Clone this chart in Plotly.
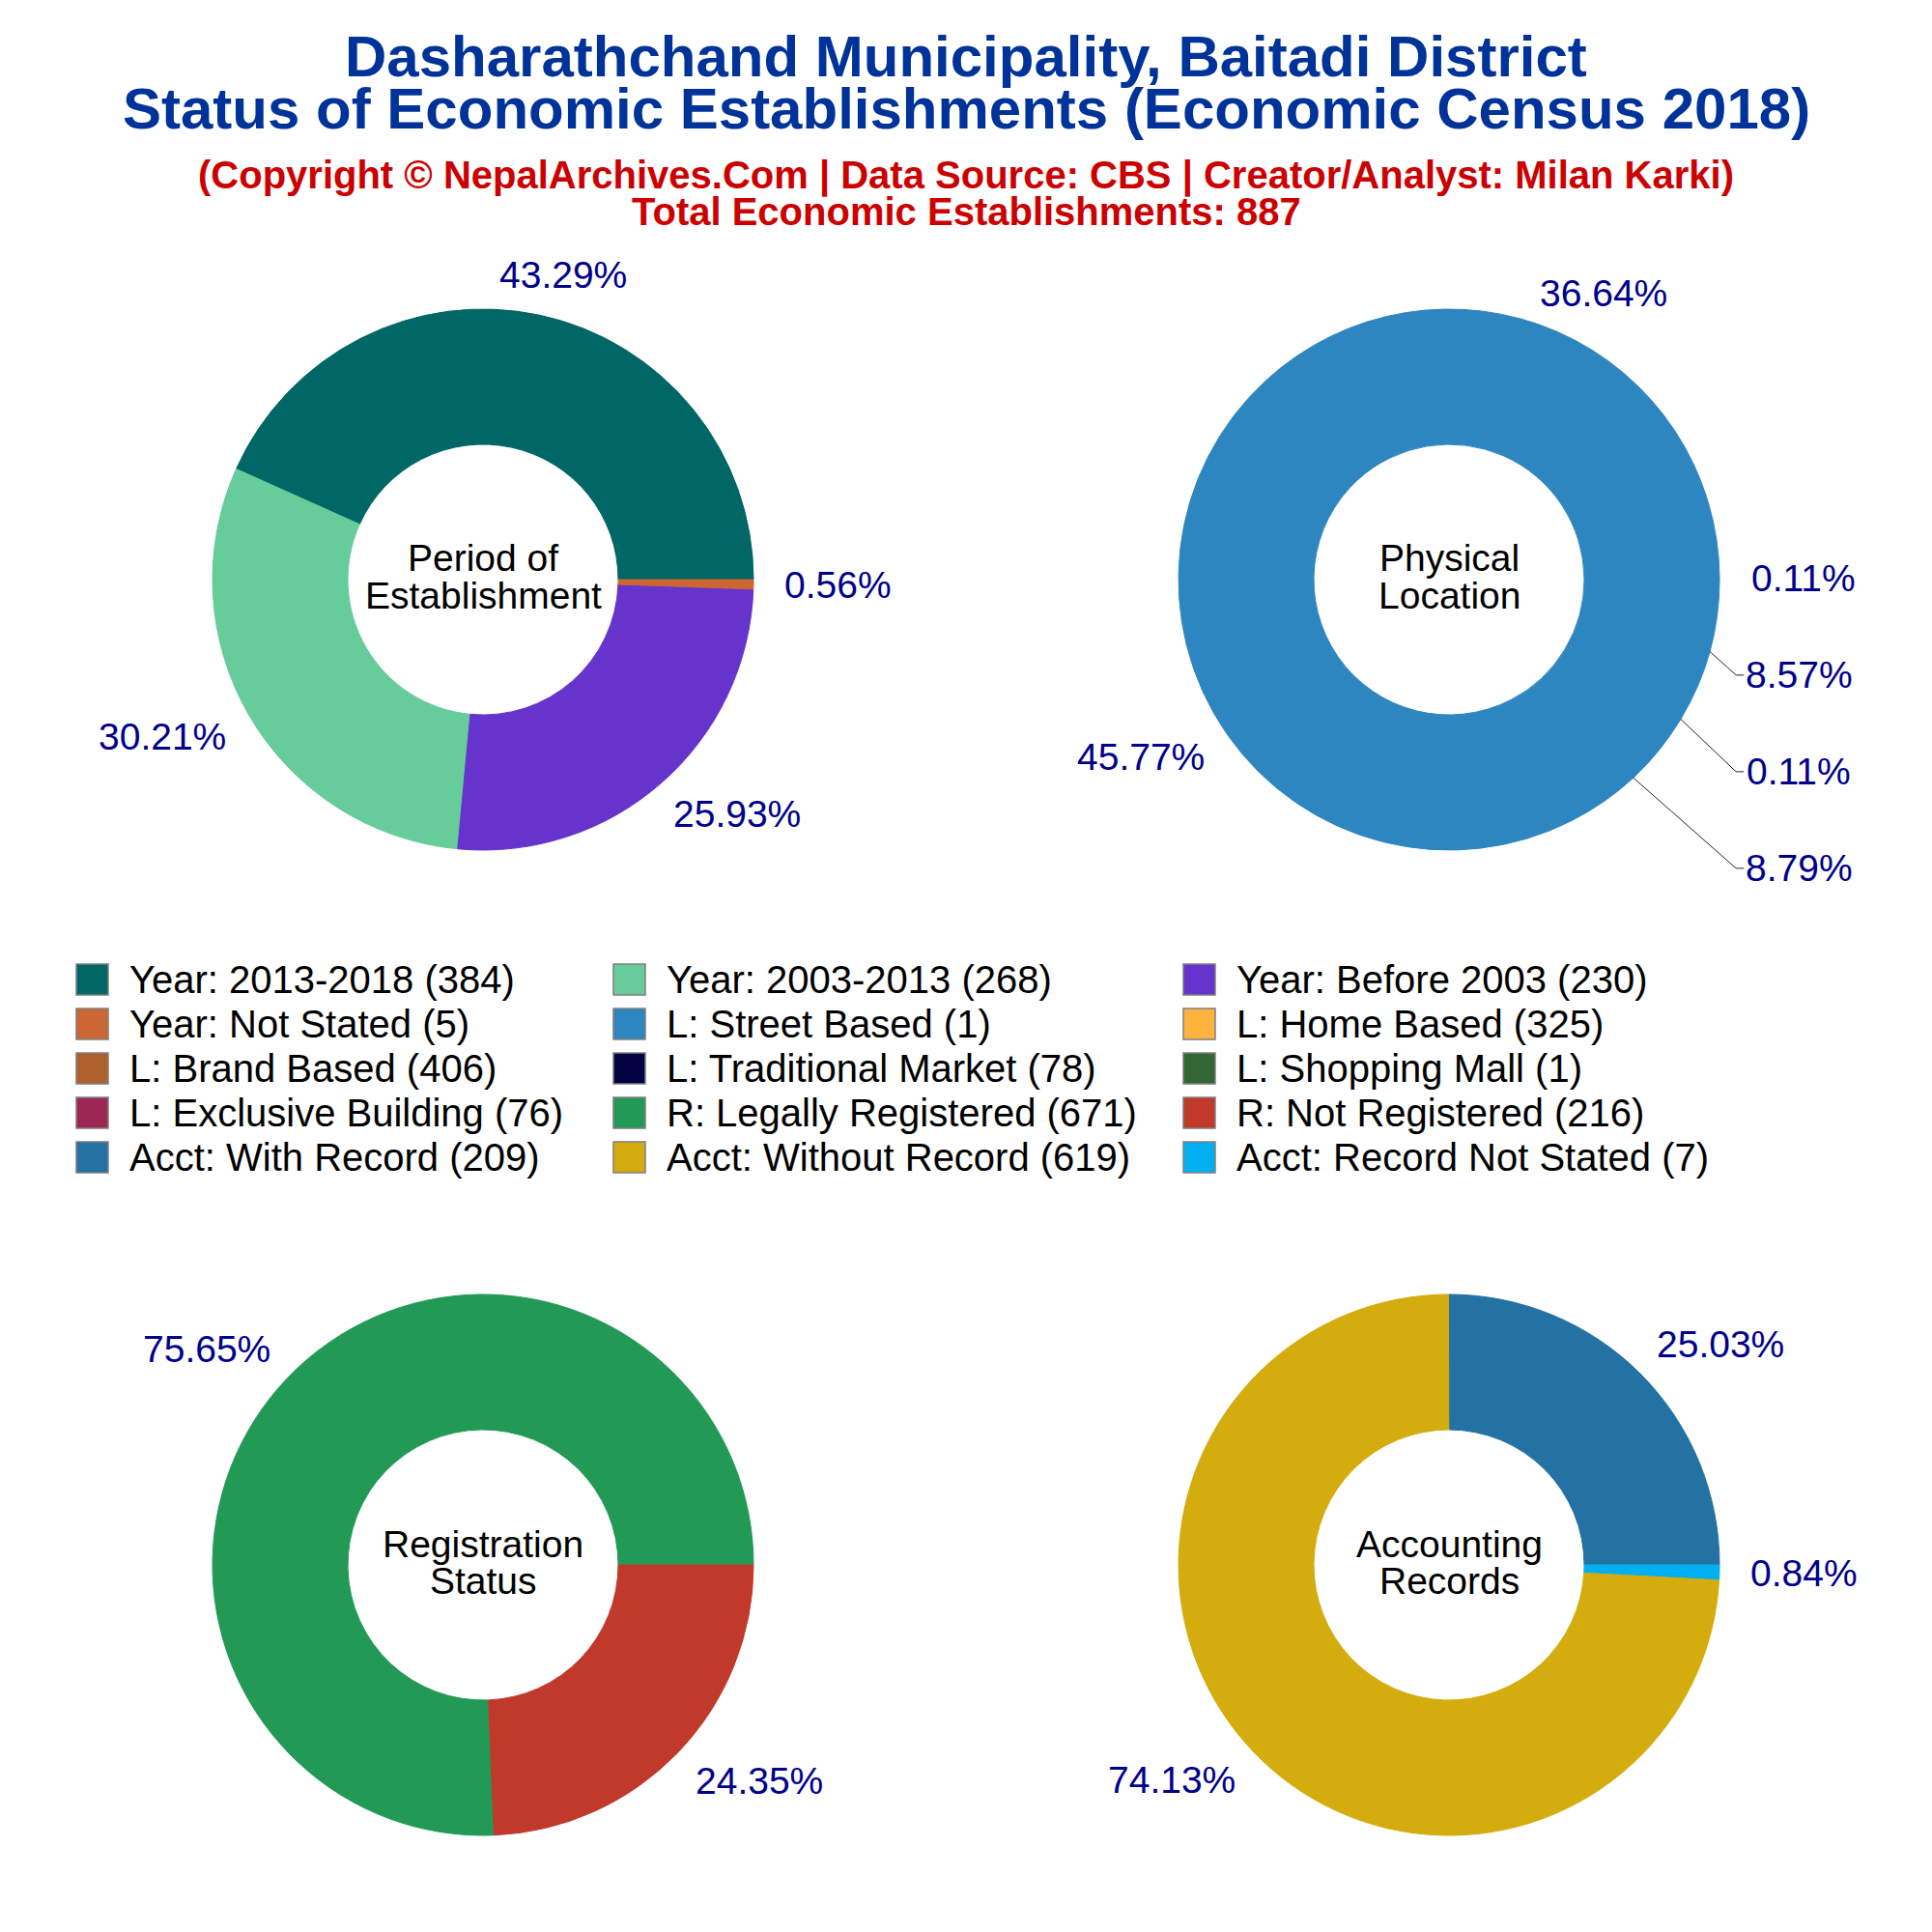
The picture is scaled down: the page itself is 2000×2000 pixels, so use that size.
import math
import plotly.graph_objects as go

# ---------------- data ----------------
period_labels = ["Year: 2013-2018", "Year: 2003-2013", "Year: Before 2003", "Year: Not Stated"]
period_values = [384, 268, 230, 5]
period_colors = ["#006666", "#66CC99", "#6633CC", "#CC6633"]

location_labels = ["L: Street Based", "L: Home Based", "L: Brand Based",
                   "L: Traditional Market", "L: Shopping Mall", "L: Exclusive Building"]
location_values = [1, 325, 406, 78, 1, 76]
location_colors = ["#2E86C1", "#FFB33F", "#B0602C", "#020244", "#336633", "#9C2755"]

registration_labels = ["R: Legally Registered", "R: Not Registered"]
registration_values = [671, 216]
registration_colors = ["#229955", "#C0392B"]

accounting_labels = ["Acct: With Record", "Acct: Without Record", "Acct: Record Not Stated"]
accounting_values = [209, 619, 7]
accounting_colors = ["#2471A3", "#D4AC0D", "#00B0F0"]

total_establishments = 887

title_lines = ["Dasharathchand Municipality, Baitadi District",
               "Status of Economic Establishments (Economic Census 2018)"]
subtitle_lines = ["(Copyright © NepalArchives.Com | Data Source: CBS | Creator/Analyst: Milan Karki)",
                  f"Total Economic Establishments: {total_establishments}"]

# ---------------- layout helpers ----------------
W = H = 2000
FONT = "Arial, Liberation Sans, sans-serif"
PCT_SIZE = 39
PCT_COLOR = "#00008B"


def px(x):
    return x / W


def py(y):
    return 1 - y / H


# approximate Arial advance widths (em) for label texts
CHAR_W = {".": 0.278, "%": 0.889}


def text_width(s, size):
    return sum(CHAR_W.get(ch, 0.556) for ch in s) * size


R = 280          # pie radius (px)
RL = 1.154 * R   # label radius
GAP = 100        # min vertical spacing between labels on one side
COL = 1.097 * R  # left edge of label column for displaced labels

pies = [
    dict(labels=period_labels, values=period_values, colors=period_colors,
         center=(500, 600), name=["Period of", "Establishment"]),
    dict(labels=location_labels, values=location_values,
         colors=[location_colors[0]] * len(location_values),
         center=(1500, 600), name=["Physical", "Location"]),
    dict(labels=registration_labels, values=registration_values, colors=registration_colors,
         center=(500, 1620), name=["Registration", "Status"]),
    dict(labels=accounting_labels, values=accounting_values, colors=accounting_colors,
         center=(1500, 1620), name=["Accounting", "Records"]),
]

fig = go.Figure()
annotations = []
shapes = []

for p in pies:
    cx, cy = p["center"]
    vals = p["values"]
    tot = sum(vals)
    rot = 90 - 360 * vals[0] / tot
    fig.add_trace(go.Pie(
        labels=p["labels"], values=vals,
        marker=dict(colors=p["colors"], line=dict(color=p["colors"], width=1)),
        hole=0.5, sort=False, direction="counterclockwise", rotation=rot,
        textinfo="none",
        domain=dict(x=[px(cx - R), px(cx + R)], y=[py(cy + R), py(cy - R)]),
        automargin=False, showlegend=False, hoverinfo="label+value+percent",
    ))

    # ---- percentage labels placed around the ring (angles from the data) ----
    labs = []
    start = 0.0
    for v in vals:
        span = 360.0 * v / tot
        th = math.radians(start + span / 2)
        start += span
        txt = f"{100 * v / tot:.2f}%"
        w = text_width(txt, PCT_SIZE)
        c, s = math.cos(th), math.sin(th)
        sign = 1 if c >= 0 else -1
        x = cx + c * RL + sign * (w / 2) * min(1.15 * abs(c), 0.8)
        y = cy - s * RL
        labs.append(dict(txt=txt, w=w, x=x, y=y, y0=y, side=sign,
                         rim=(cx + c * R, cy - s * R)))
    for side in (1, -1):
        group = sorted([l for l in labs if l["side"] == side], key=lambda l: l["y"])
        for a, b in zip(group, group[1:]):
            if b["y"] < a["y"] + GAP:
                b["y"] = a["y"] + GAP
    for l in labs:
        moved = abs(l["y"] - l["y0"]) > 10
        if moved:
            left = cx + l["side"] * COL
            l["x"] = left + l["side"] * l["w"] / 2
            rx, ry = l["rim"]
            ex = left - l["side"] * 10
            shapes.append(dict(type="path", xref="paper", yref="paper",
                               path=f"M {px(rx)} {py(ry)} L {px(ex)} {py(l['y'])} L {px(left - l['side'] * 2)} {py(l['y'])}",
                               line=dict(color="#222222", width=1)))
        annotations.append(dict(x=px(l["x"]), y=py(l["y"]), xref="paper", yref="paper",
                                text=l["txt"], showarrow=False, xanchor="center", yanchor="middle",
                                font=dict(family=FONT, size=PCT_SIZE, color=PCT_COLOR)))

    for k, line in enumerate(p["name"]):
        annotations.append(dict(
            x=px(cx), y=py(cy - 22 + 38 * k), xref="paper", yref="paper",
            text=line, showarrow=False, xanchor="center", yanchor="middle",
            font=dict(family=FONT, size=39, color="black")))

# titles
for txt, yc in zip(title_lines, [59, 113]):
    annotations.append(dict(x=0.5, y=py(yc), xref="paper", yref="paper", text=f"<b>{txt}</b>",
                            showarrow=False, xanchor="center", yanchor="middle",
                            font=dict(family=FONT, size=60, color="#003399")))
for txt, yc in zip(subtitle_lines, [181, 219]):
    annotations.append(dict(x=0.5, y=py(yc), xref="paper", yref="paper", text=f"<b>{txt}</b>",
                            showarrow=False, xanchor="center", yanchor="middle",
                            font=dict(family=FONT, size=40, color="#CC0000")))

# legend (3 columns, row-major)
legend_labels = period_labels + location_labels + registration_labels + accounting_labels
legend_values = period_values + location_values + registration_values + accounting_values
legend_colors = period_colors + location_colors + registration_colors + accounting_colors
col_x = [79, 635, 1225]
row_y0, row_dy = 1014, 46
for i, (lab, val, col) in enumerate(zip(legend_labels, legend_values, legend_colors)):
    r, c = divmod(i, 3)
    x0 = col_x[c]
    yc = row_y0 + r * row_dy
    shapes.append(dict(type="rect", xref="paper", yref="paper",
                       x0=px(x0), x1=px(x0 + 33), y0=py(yc + 16), y1=py(yc - 16),
                       fillcolor=col, line=dict(color="#7F7F7F", width=1.5)))
    annotations.append(dict(x=px(x0 + 53), y=py(yc), xref="paper", yref="paper",
                            text=f"{lab} ({val})", showarrow=False,
                            xanchor="left", yanchor="middle",
                            font=dict(family=FONT, size=40, color="black")))

fig.update_layout(
    template="none",
    width=W, height=H,
    margin=dict(l=0, r=0, t=0, b=0),
    paper_bgcolor="white", plot_bgcolor="white",
    showlegend=False,
    annotations=annotations, shapes=shapes,
)

fig.write_html("out.html", config={"displayModeBar": False},
               post_script="document.body.style.margin='0';")
